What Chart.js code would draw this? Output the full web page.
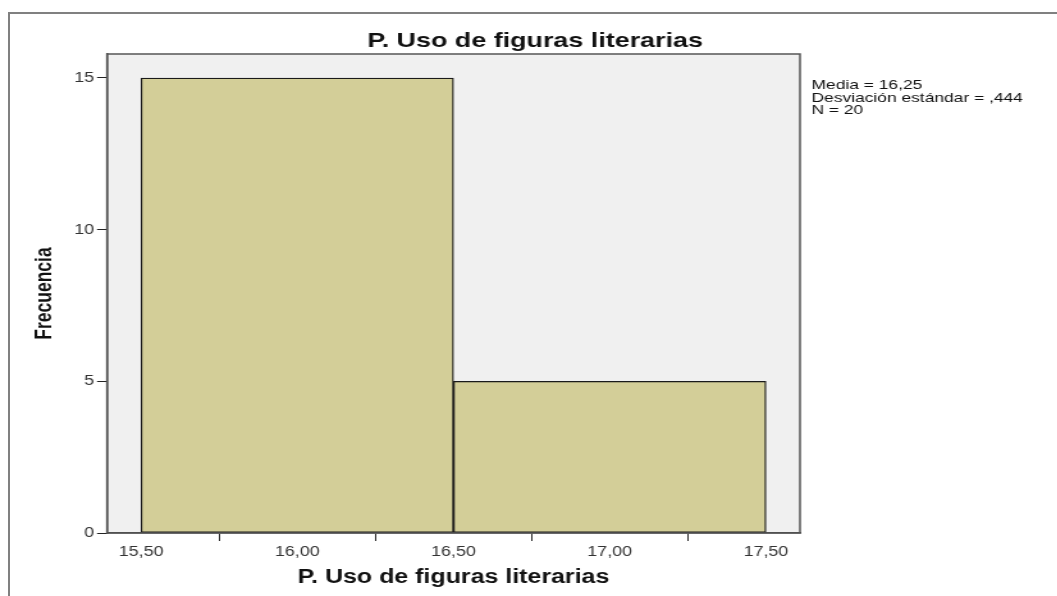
<!DOCTYPE html>
<html>
<head>
<meta charset="UTF-8" />
<title>P. Uso de figuras literarias</title>
<script src="https://cdn.jsdelivr.net/npm/chart.js@4.4.0/dist/chart.umd.min.js"></script>
<style>
  html,body{margin:0;padding:0;background:#fff;overflow:hidden;width:1057px;height:596px}
  .frame{position:absolute;left:8px;top:12px;width:1200px;height:800px;border-left:2px solid #808080;border-top:2px solid #808080}
  /* the source picture is stretched sideways, so the chart is drawn narrow and widened */
  .stretch{position:absolute;left:0;top:0;width:826px;height:596px;transform:scaleX(1.28);transform-origin:0 0}
</style>
</head>
<body>
<div class="frame"></div>
<div class="stretch"><canvas id="histChart" width="826" height="596"></canvas></div>
<script>
const chartTitle='P. Uso de figuras literarias';
const xAxisTitle='P. Uso de figuras literarias';
const yAxisTitle='Frecuencia';
const binCenters=[16.0,17.0];
const frequencies=[15,5];
const xTickValues=[15.5,16.0,16.5,17.0,17.5];
const yTickValues=[0,5,10,15];
const statsLines=['Media = 16,25','Desviación estándar = ,444','N = 20'];

const FONT="'Liberation Sans', Arial, sans-serif";

const plotBox={
  id:'plotBox',
  beforeDraw(chart){
    const a=chart.chartArea, ctx=chart.ctx;
    ctx.save();
    ctx.fillStyle='#f0f0f0';
    ctx.fillRect(a.left,a.top,a.right-a.left,a.bottom-a.top);
    ctx.restore();
  },
  afterDatasetsDraw(chart){
    const a=chart.chartArea, ctx=chart.ctx;
    ctx.save();
    ctx.strokeStyle='#555';
    ctx.lineWidth=1.5;
    ctx.strokeRect(a.left,a.top,a.right-a.left,a.bottom-a.top);
    ctx.restore();
  },
  afterDraw(chart){
    const a=chart.chartArea, ctx=chart.ctx;
    ctx.save();
    ctx.fillStyle='#111';
    ctx.font='bold 21px '+FONT;
    ctx.textAlign='center';
    ctx.textBaseline='alphabetic';
    ctx.fillText(chartTitle,418,47);
    ctx.font='13.6px '+FONT;
    ctx.textAlign='left';
    statsLines.forEach((t,i)=>ctx.fillText(t,a.right+9,89+i*12.5));
    ctx.restore();
  }
};

new Chart(document.getElementById('histChart'),{
  type:'bar',
  data:{
    datasets:[{
      label:xAxisTitle,
      data:binCenters.map((x,i)=>({x:x,y:frequencies[i]})),
      backgroundColor:'#d3ce98',
      borderColor:'#1a1a1a',
      borderWidth:1.3,
      borderSkipped:false,
      barThickness:'flex',
      barPercentage:1,
      categoryPercentage:1
    }]
  },
  options:{
    responsive:false,
    animation:false,
    layout:{padding:{top:54,right:201,left:0,bottom:0}},
    plugins:{legend:{display:false},tooltip:{enabled:false},title:{display:false}},
    scales:{
      x:{
        type:'linear',min:15.391,max:17.609,offset:false,
        afterBuildTicks:s=>{s.ticks=xTickValues.map(v=>({value:v}));},
        afterFit:s=>{s.height=63;},
        grid:{drawOnChartArea:false,drawTicks:true,tickLength:8,color:'#222',lineWidth:1},
        border:{display:true,color:'#444',width:1.5},
        ticks:{autoSkip:false,maxRotation:0,padding:3,color:'#333',font:{family:FONT,size:14},
          callback:v=>Number(v).toFixed(2).replace('.',',')},
        title:{display:true,text:xAxisTitle,color:'#111',font:{family:FONT,size:19.5,weight:'bold'},padding:{top:0,bottom:7}}
      },
      y:{
        min:0,max:15.79,
        afterBuildTicks:s=>{s.ticks=yTickValues.map(v=>({value:v}));},
        afterFit:s=>{s.width=83.6;},
        grid:{drawOnChartArea:false,drawTicks:true,tickLength:7.8,color:'#222',lineWidth:1},
        border:{display:true,color:'#444',width:1.5},
        ticks:{autoSkip:false,padding:2.3,color:'#333',font:{family:FONT,size:14},callback:v=>String(v)},
        title:{display:true,text:yAxisTitle,color:'#111',font:{family:FONT,size:17.5,weight:'bold'},padding:{top:24.7,bottom:0}}
      }
    }
  },
  plugins:[plotBox]
});
</script>
</body>
</html>
